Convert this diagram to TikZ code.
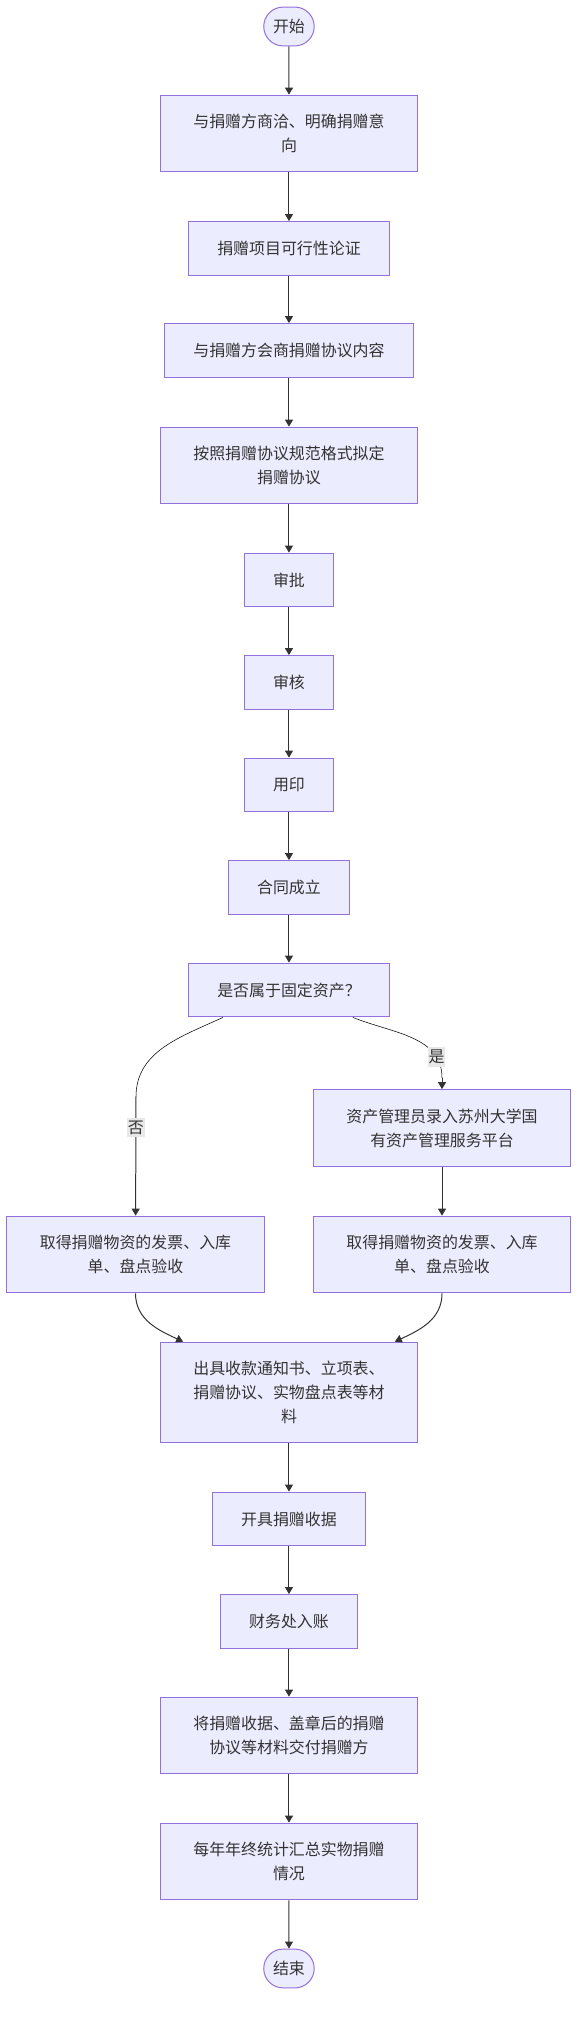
\documentclass[tikz,border=0pt]{standalone}
\usepackage{fontspec}
\setmainfont{Noto Sans CJK SC}
\usetikzlibrary{arrows.meta,shapes.misc}
\definecolor{boxfill}{HTML}{ECECFF}
\definecolor{boxline}{HTML}{9370DB}
\definecolor{ink}{HTML}{333333}
\definecolor{lblfill}{HTML}{E8E8E8}
\tikzset{
    every node/.style={text=ink, font=\fontsize{12pt}{18pt}\selectfont}
}
\tikzset{
    box/.style={rectangle, fill=boxfill, draw=boxline, line width=0.75pt,
    	inner xsep=21.75pt, inner ysep=0pt, minimum height=40.5pt, align=center},
    wide/.style={box, minimum width=193.5pt, minimum height=57.75pt},
    pill/.style={rounded rectangle, fill=boxfill, draw=boxline, line width=0.75pt,
    	minimum width=42pt, minimum height=29.25pt, inner xsep=2pt},
    lbl/.style={fill=lblfill, inner xsep=0.5pt, inner ysep=2pt},
    flow/.style={draw=ink, line width=0.75pt, -{Triangle[length=5.25pt,width=6pt]}}
}
\tikzset{
    every edge/.append style={flow}
}

\begin{document}
\begin{tikzpicture}
	\useasboundingbox (0cm, 0cm) rectangle (15.505cm, -53.552cm);
	\node (1) [pill] at (7.646cm, -0.701cm) {开始};
	\node (2) [wide] at (7.646cm, -3.532cm) {与捐赠方商洽、明确捐赠意\\向};
	\node (3) [box] at (7.646cm, -6.575cm) {捐赠项目可行性论证};
	\node (4) [box] at (7.646cm, -9.274cm) {与捐赠方会商捐赠协议内容};
	\node (5) [wide] at (7.646cm, -12.316cm) {按照捐赠协议规范格式拟定\\捐赠协议};
	\node (6) [box] at (7.646cm, -15.346cm) {审批};
	\node (7) [box] at (7.646cm, -18.058cm) {审核};
	\node (8) [box] at (7.646cm, -20.770cm) {用印};
	\node (9) [box] at (7.646cm, -23.482cm) {合同成立};
	\node (10) [box] at (7.646cm, -26.194cm) {是否属于固定资产？};
	\node (11) [wide] at (11.695cm, -29.845cm) {资产管理员录入苏州大学国\\有资产管理服务平台};
	\node (12) [wide] at (3.585cm, -33.192cm) {取得捐赠物资的发票、入库\\单、盘点验收};
	\node (13) [wide] at (11.695cm, -33.192cm) {取得捐赠物资的发票、入库\\单、盘点验收};
	\node (14) [wide, minimum height=75.75pt] at (7.646cm, -36.843cm) {出具收款通知书、立项表、\\捐赠协议、实物盘点表等材\\料};
	\node (15) [box] at (7.646cm, -40.190cm) {开具捐赠收据};
	\node (16) [box] at (7.646cm, -42.902cm) {财务处入账};
	\node (17) [wide] at (7.646cm, -45.918cm) {将捐赠收据、盖章后的捐赠\\协议等材料交付捐赠方};
	\node (18) [wide] at (7.646cm, -49.252cm) {每年年终统计汇总实物捐赠\\情况};
	\node (19) [pill] at (7.646cm, -52.083cm) {结束};
	\coordinate (nobend) at (3.598cm, -29.024cm);
	\coordinate (yesbend) at (11.695cm, -28.522cm);

	\draw (1) edge (2); \draw (2) edge (3); \draw (3) edge (4);
	\draw (4) edge (5); \draw (5) edge (6); \draw (6) edge (7);
	\draw (7) edge (8); \draw (8) edge (9); \draw (9) edge (10);

	\draw ([xshift=-1.75cm]10.south) to [out=-155, in=90] (nobend)
		edge node [lbl, pos=0.26] {否} (12);
	\draw ([xshift=1.69cm]10.south) to [out=-22, in=90]
		node [lbl, pos=0.8] {是} (yesbend) edge (11);
	\draw (11) edge (13);
	\draw (12) edge [out=-90, in=155] ([xshift=-2.8cm]14.north);
	\draw (13) edge [out=-90, in=25] ([xshift=2.8cm]14.north);

	\draw (14) edge (15); \draw (15) edge (16); \draw (16) edge (17);
	\draw (17) edge (18); \draw (18) edge (19);
\end{tikzpicture}
\end{document}
